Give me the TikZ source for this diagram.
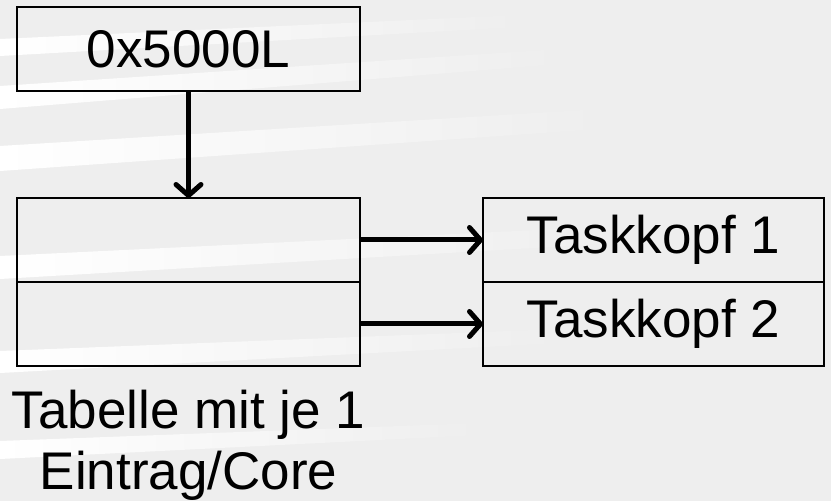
\documentclass[tikz,border=0pt]{standalone}
\usepackage{fontspec}
\setmainfont{Liberation Sans}
\usetikzlibrary{positioning, arrows.meta}
\definecolor{slidebg}{RGB}{238,238,238}

\begin{document}
\begin{tikzpicture}[x=1pt, y=1pt, node distance=0pt,
  cell/.style={draw, line width=2.2pt, outer sep=0pt, minimum width=343pt,
    minimum height=84pt, font=\fontsize{53}{56}\selectfont},
  arr/.style={line width=5pt, -{Straight Barb[length=11pt, width=25pt, line width=5pt, round]}},
  streak/.style={left color=white, right color=slidebg, draw=none}]
% slide background with soft light streaks
\useasboundingbox[fill=slidebg] (0,0) rectangle (831,501);
\shade[streak] (0,462) -- (520,486) -- (520,474) -- (0,445) -- cycle;
\shade[streak] (0,415) -- (560,452) -- (560,437) -- (0,392) -- cycle;
\shade[streak] (0,355) -- (600,392) -- (600,372) -- (0,330) -- cycle;
\shade[streak] (0,245) -- (620,275) -- (620,258) -- (0,222) -- cycle;
\shade[streak] (0,150) -- (560,172) -- (560,158) -- (0,128) -- cycle;
\shade[streak] (0,60) -- (480,78) -- (480,66) -- (0,42) -- cycle;

\node[cell] (base) at (188.5,452) {0x5000L};
\node[cell, below=107pt of base] (row1) {};
\node[cell, below=of row1] (row2) {};
\node[cell, minimum width=341pt, right=123pt of row1] (task1) {Taskkopf 1};
\node[cell, minimum width=341pt, below=of task1] (task2) {Taskkopf 2};
\node[font=\fontsize{53}{61}\selectfont, align=center, below=21pt of row2] (caption)
  {Tabelle mit je 1\\ Eintrag/Core};

\draw[arr] (base) -- (row1);
\draw[arr] (row1) -- (task1);
\draw[arr] (row2) -- (task2);
\end{tikzpicture}
\end{document}
